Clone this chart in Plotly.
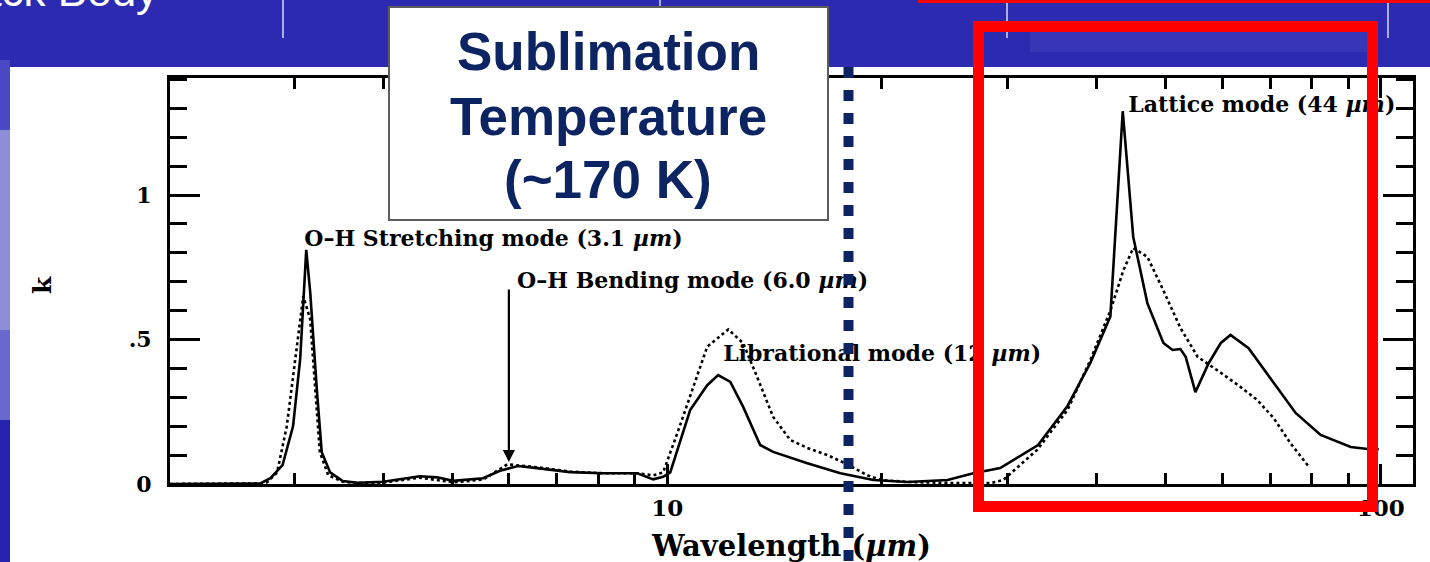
import math
import plotly.graph_objects as go

# ---------------- data ----------------
wl_solid = [2.01, 2.50, 2.69, 2.78, 2.89, 2.99, 3.06, 3.12, 3.16, 3.23, 3.28, 3.37, 3.51, 3.68,
            4.00, 4.50, 4.76, 5.01, 5.52, 5.83, 6.18, 6.57, 7.31, 8.13, 9.08, 9.56, 9.87, 10.0,
            10.1, 10.77, 11.38, 11.79, 12.26, 12.78, 13.50, 14.08, 15.72, 17.49, 19.45, 21.71,
            24.71, 26.87, 29.3, 33.1, 36.4, 39.2, 41.4, 41.8, 43.5, 45.0, 47.1, 49.6, 51.1, 52.4,
            53.3, 55.0, 57.4, 59.7, 61.6, 65.3, 70.8, 76.0, 82.4, 90.8, 95.9, 99.4]
k_solid = [0.0, 0.0, 0.002, 0.02, 0.065, 0.20, 0.435, 0.81, 0.664, 0.32, 0.11, 0.04, 0.01, 0.004,
           0.008, 0.027, 0.023, 0.011, 0.02, 0.046, 0.062, 0.055, 0.041, 0.037, 0.037, 0.016, 0.025, 0.033,
           0.04, 0.256, 0.342, 0.377, 0.353, 0.267, 0.135, 0.111, 0.072, 0.037, 0.014, 0.007,
           0.014, 0.037, 0.055, 0.135, 0.27, 0.42, 0.56, 0.58, 1.29, 0.855, 0.626, 0.488, 0.464, 0.467,
           0.44, 0.318, 0.418, 0.488, 0.516, 0.47, 0.35, 0.246, 0.17, 0.128, 0.121, 0.12]

wl_dotted = [2.01, 2.50, 2.69, 2.75, 2.84, 2.93, 3.01, 3.09, 3.16, 3.21, 3.26, 3.35, 3.51, 3.68,
             4.00, 4.50, 5.01, 5.52, 5.97, 6.57, 7.31, 8.13, 9.08, 9.56, 9.87, 10.33, 10.87, 11.38,
             12.18, 12.78, 13.37, 14.08, 14.88, 15.72, 16.77, 17.89, 19.08, 19.9, 21.71, 25.52, 28.38,
             29.6, 33.0, 36.4, 39.2, 41.8, 43.6, 45.0, 47.1, 49.6, 52.4, 55.4, 59.7, 63.6, 67.2, 70.8,
             74.8, 79.3]
k_dotted = [0.0, 0.0, 0.002, 0.006, 0.04, 0.20, 0.435, 0.65, 0.57, 0.32, 0.11, 0.03, 0.008, 0.003,
            0.005, 0.022, 0.006, 0.015, 0.068, 0.058, 0.043, 0.037, 0.037, 0.03, 0.04, 0.175, 0.337, 0.475,
            0.535, 0.487, 0.37, 0.232, 0.152, 0.125, 0.10, 0.068, 0.03, 0.014, 0.007, 0.003, 0.003,
            0.014, 0.118, 0.256, 0.43, 0.60, 0.74, 0.817, 0.786, 0.67, 0.54, 0.44, 0.385, 0.336, 0.29, 0.228,
            0.14, 0.06]

mode_labels = ["O\u2013H Stretching mode (3.1 <i>\u00b5m</i>)",
               "O\u2013H Bending mode (6.0 <i>\u00b5m</i>)",
               "Librational mode (12 <i>\u00b5m</i>)",
               "Lattice mode (44 <i>\u00b5m</i>)"]
label_wl = [3.10, 6.16, 11.98, 44.3]
label_k = [0.844, 0.696, 0.446, 1.308]

arrow_wl = 6.0
arrow_k_tail = 0.678
arrow_k_head = 0.076

x_major_ticks = [10, 100]
x_major_text = ["10", "100"]
x_minor_ticks = [3, 4, 5, 6, 7, 8, 9, 20, 30, 40, 50, 60, 70, 80, 90]
y_major_ticks = [0, 0.5, 1]
y_major_text = ["0", ".5", "1"]

x_range = [2.01, 111.0]
y_range = [0, 1.405]

box_lines = ["Sublimation", "Temperature", "(~170 K)"]
slide_title = "Black Body"

# ---------------- layout geometry ----------------
W, H = 1430, 562
ML, MR, MT, MB = 170, 17, 78, 78
PW = W - ML - MR
PH = H - MT - MB


def px(xp):
    return (xp - ML) / PW


def py(yp):
    return (H - MB - yp) / PH


SERIF = "DejaVu Serif"
BLUE = "#2c2ab0"
NAVY = "#0c2461"

fig = go.Figure()

fig.add_trace(go.Scatter(x=wl_dotted, y=k_dotted, mode="lines",
                         line=dict(color="black", width=2.6, dash="dot"),
                         showlegend=False, hoverinfo="skip"))
fig.add_trace(go.Scatter(x=wl_solid, y=k_solid, mode="lines",
                         line=dict(color="black", width=2.6),
                         showlegend=False, hoverinfo="skip"))
fig.add_trace(go.Scatter(x=label_wl, y=label_k, mode="text", text=mode_labels,
                         textposition="middle right",
                         marker=dict(size=0),
                         textfont=dict(family=SERIF, size=22, color="black", weight="bold"),
                         showlegend=False, hoverinfo="skip", cliponaxis=False))

shapes = []


def rect_px(x0, y0, x1, y1, fill, line_color=None, lw=0, layer="below", opacity=1):
    d = dict(type="rect", xref="paper", yref="paper",
             x0=px(x0), x1=px(x1), y0=py(y1), y1=py(y0),
             fillcolor=fill, layer=layer, opacity=opacity,
             line=dict(width=lw, color=line_color or "rgba(0,0,0,0)"))
    shapes.append(d)


# slide background details
rect_px(10, 67, 1432, 565, "white")
rect_px(0, 60, 10, 130, "#4a48c2")
rect_px(0, 130, 10, 330, "#8e8ed8")
rect_px(0, 330, 10, 420, "#6a68cc")
rect_px(0, 420, 10, 565, "#2624ae")
rect_px(1030, 32, 1370, 52, "rgba(170,170,235,0.10)")

for xl in [283, 660, 1007, 1388]:
    shapes.append(dict(type="line", xref="paper", yref="paper",
                       x0=px(xl), x1=px(xl), y0=py(38), y1=py(0),
                       line=dict(color="#d8d8f4", width=1.5), layer="below"))

# red line at very top right
shapes.append(dict(type="line", xref="paper", yref="paper",
                   x0=px(918), x1=px(1435), y0=py(1.5), y1=py(1.5),
                   line=dict(color="#ff0000", width=3), layer="above"))

# sublimation box
rect_px(389, 7, 828, 220, "white", line_color="#5c5c5c", lw=2, layer="above")

# dotted vertical navy line
shapes.append(dict(type="line", xref="paper", yref="paper",
                   x0=px(848.5), x1=px(848.5), y0=py(67), y1=py(565),
                   line=dict(color=NAVY, width=10, dash="11px,12px"), layer="above"))

# red rectangle
shapes.append(dict(type="rect", xref="paper", yref="paper",
                   x0=px(978.5), x1=px(1372.5), y0=py(506.5), y1=py(26.5),
                   line=dict(color="#ff0000", width=11), fillcolor="rgba(0,0,0,0)",
                   layer="above"))

annotations = []
# arrow for bending mode
annotations.append(dict(x=math.log10(arrow_wl), y=arrow_k_head, xref="x", yref="y",
                        ax=math.log10(arrow_wl), ay=arrow_k_tail, axref="x", ayref="y",
                        text="", showarrow=True, arrowhead=2, arrowsize=1.1,
                        arrowwidth=2.2, arrowcolor="black", standoff=0, startstandoff=0))

# box text
for txt, yc in zip(box_lines, [52, 116, 179]):
    annotations.append(dict(x=px(608), y=py(yc), xref="paper", yref="paper",
                            text=txt, showarrow=False, xanchor="center", yanchor="middle",
                            font=dict(family="Liberation Sans", size=53, color=NAVY, weight="bold")))

# slide title fragment (cut off at the top-left)
annotations.append(dict(x=px(160), y=py(17), xref="paper", yref="paper",
                        text=slide_title, showarrow=False, xanchor="right", yanchor="bottom",
                        font=dict(family="Liberation Sans", size=44, color="white")))

# axis titles
annotations.append(dict(x=px(791), y=py(546), xref="paper", yref="paper",
                        text="Wavelength (<i>\u00b5m</i>)", showarrow=False,
                        xanchor="center", yanchor="middle",
                        font=dict(family=SERIF, size=29, color="black", weight="bold")))
annotations.append(dict(x=px(42), y=py(285), xref="paper", yref="paper",
                        text="k", showarrow=False, textangle=-90,
                        xanchor="center", yanchor="middle",
                        font=dict(family=SERIF, size=25, color="black", weight="bold")))

fig.update_layout(
    width=W, height=H,
    margin=dict(l=ML, r=MR, t=MT, b=MB, pad=0),
    paper_bgcolor=BLUE, plot_bgcolor="white",
    shapes=shapes, annotations=annotations,
    showlegend=False,
    xaxis=dict(type="log", range=[math.log10(x_range[0]), math.log10(x_range[1])],
               tickmode="array", tickvals=x_major_ticks, ticktext=x_major_text,
               ticks="inside", ticklen=20, tickwidth=2.5, tickcolor="black",
               showline=True, linewidth=3, linecolor="black", mirror="ticks",
               showgrid=False, zeroline=False, ticklabelstandoff=1,
               tickfont=dict(family=SERIF, size=23, color="black", weight="bold"),
               minor=dict(tickmode="array", tickvals=x_minor_ticks, ticks="inside",
                          ticklen=11, tickwidth=2.5, tickcolor="black", showgrid=False)),
    yaxis=dict(range=y_range, tickmode="array", tickvals=y_major_ticks, ticktext=y_major_text,
               ticks="inside", ticklen=30, tickwidth=2.5, tickcolor="black",
               showline=True, linewidth=3, linecolor="black", mirror="ticks",
               showgrid=False, zeroline=False, ticklabelstandoff=11,
               tickfont=dict(family=SERIF, size=22, color="black", weight="bold"),
               minor=dict(dtick=0.1, tick0=0, ticks="inside", ticklen=17, tickwidth=2.5,
                          tickcolor="black", showgrid=False)),
)

fig.write_html("out.html", config={"displayModeBar": False},
               post_script="document.body.style.margin='0';document.body.style.overflow='hidden';")
